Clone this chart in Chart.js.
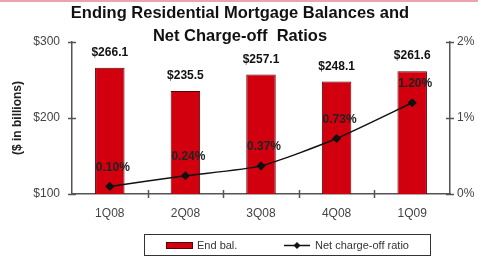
<!DOCTYPE html>
<html>
<head>
<meta charset="utf-8">
<script src="https://cdn.jsdelivr.net/npm/chart.js@4.4.1/dist/chart.umd.min.js"></script>
<style>
  html, body { margin: 0; padding: 0; background: #fff; }
  #wrap { position: relative; width: 478px; height: 258px; overflow: hidden; }
  #topline { position: absolute; left: 0; top: 0; width: 478px; height: 2px; background: #eba3ad; }
</style>
</head>
<body>
<div id="wrap">
  <canvas id="chart" width="478" height="258"></canvas>
  <div id="topline"></div>
</div>
<script>
// ---- data ----
const quarters = ["1Q08", "2Q08", "3Q08", "4Q08", "1Q09"];
const endBalances = [266.1, 235.5, 257.1, 248.1, 261.6];
const chargeOffRatios = [0.10, 0.24, 0.37, 0.73, 1.20];
const balanceTicks = [100, 200, 300];
const ratioTicks = [0, 1, 2];
const titleLines = ["Ending Residential Mortgage Balances and", "Net Charge-off  Ratios"];
const legendLabels = ["End bal.", "Net charge-off ratio"];

const BAR_RED = "#d2000f";
const BAR_EDGE = "#5a0005";
const LINE_COL = "#111";
const AXIS_COL = "#555";
const FONT = "Arial, 'Liberation Sans', sans-serif";

// draws titles, value labels, crossing ticks and the boxed legend
const extrasPlugin = {
  id: "extras",
  afterDraw(chart) {
    const ctx = chart.ctx;
    const ca = chart.chartArea;
    const xs = chart.scales.x, yl = chart.scales.y, yr = chart.scales.y1;
    ctx.save();

    // title
    ctx.fillStyle = "#111";
    ctx.font = "bold 16.5px " + FONT;
    ctx.textAlign = "center";
    ctx.textBaseline = "middle";
    ctx.fillText(titleLines[0], 240, 13);
    ctx.fillText(titleLines[1], 240, 36);

    // crossing tick marks on the axes
    ctx.strokeStyle = AXIS_COL;
    ctx.lineWidth = 1.5;
    ctx.beginPath();
    balanceTicks.forEach(v => {
      const y = Math.round(yl.getPixelForValue(v)) + 0.5;
      ctx.moveTo(ca.left - 4, y); ctx.lineTo(ca.left + 4, y);
    });
    ratioTicks.forEach(v => {
      const y = Math.round(yr.getPixelForValue(v)) + 0.5;
      ctx.moveTo(ca.right - 4, y); ctx.lineTo(ca.right + 4, y);
    });
    for (let i = 0; i < quarters.length - 1; i++) {
      const x = Math.round((xs.getPixelForValue(i) + xs.getPixelForValue(i + 1)) / 2) + 0.5;
      ctx.moveTo(x, ca.bottom - 4); ctx.lineTo(x, ca.bottom + 4);
    }
    ctx.stroke();

    // bar value labels
    const barMeta = chart.getDatasetMeta(0);
    ctx.fillStyle = "#111";
    ctx.font = "bold 12px " + FONT;
    barMeta.data.forEach((bar, i) => {
      ctx.fillText("$" + endBalances[i].toFixed(1), bar.x, bar.y - 15);
    });

    // ratio labels
    const lineMeta = chart.getDatasetMeta(1);
    ctx.fillStyle = "#222";
    lineMeta.data.forEach((pt, i) => {
      ctx.fillText(chargeOffRatios[i].toFixed(2) + "%", pt.x + 3, pt.y - 19);
    });

    // legend
    ctx.strokeStyle = "#333";
    ctx.lineWidth = 1;
    ctx.strokeRect(144.5, 234.5, 286, 21);
    ctx.fillStyle = BAR_RED;
    ctx.fillRect(166, 242, 27, 7);
    ctx.strokeStyle = BAR_EDGE;
    ctx.strokeRect(166.5, 242.5, 26, 6);
    ctx.fillStyle = "#333";
    ctx.font = "11px " + FONT;
    ctx.textAlign = "left";
    ctx.fillText(legendLabels[0], 197, 245.5);
    ctx.strokeStyle = LINE_COL;
    ctx.lineWidth = 1.5;
    ctx.beginPath();
    ctx.moveTo(284, 245.5); ctx.lineTo(310, 245.5);
    ctx.stroke();
    ctx.fillStyle = LINE_COL;
    ctx.beginPath();
    ctx.moveTo(297, 242); ctx.lineTo(300.5, 245.5); ctx.lineTo(297, 249); ctx.lineTo(293.5, 245.5);
    ctx.closePath();
    ctx.fill();
    ctx.fillStyle = "#333";
    ctx.fillText(legendLabels[1], 315, 245.5);

    ctx.restore();
  }
};

new Chart(document.getElementById("chart"), {
  data: {
    labels: quarters,
    datasets: [
      {
        type: "bar",
        label: legendLabels[0],
        data: endBalances,
        yAxisID: "y",
        base: balanceTicks[0],
        backgroundColor: BAR_RED,
        borderColor: BAR_EDGE,
        borderWidth: 1,
        categoryPercentage: 1,
        barPercentage: 0.39,
        order: 1
      },
      {
        type: "line",
        label: legendLabels[1],
        data: chargeOffRatios,
        yAxisID: "y1",
        borderColor: LINE_COL,
        backgroundColor: LINE_COL,
        borderWidth: 1.5,
        tension: 0.2,
        pointStyle: "rectRot",
        pointRadius: 3.5,
        order: 0
      }
    ]
  },
  options: {
    responsive: false,
    animation: false,
    devicePixelRatio: 1,
    layout: { padding: { top: 42, left: 0, right: 0, bottom: 0 } },
    plugins: {
      legend: { display: false },
      title: { display: false },
      tooltip: { enabled: false }
    },
    scales: {
      x: {
        offset: true,
        grid: { display: false, drawTicks: false },
        border: { color: AXIS_COL, width: 1.5 },
        ticks: { color: "#444", font: { family: FONT, size: 12 }, padding: 12, maxRotation: 0 },
        afterFit(s) { s.height = 64; }
      },
      y: {
        position: "left",
        min: balanceTicks[0],
        max: balanceTicks[balanceTicks.length - 1],
        afterBuildTicks(s) { s.ticks = balanceTicks.map(v => ({ value: v })); },
        grid: { display: false, drawTicks: false },
        border: { color: AXIS_COL, width: 1.5 },
        ticks: { color: "#444", font: { family: FONT, size: 12 }, padding: 12, callback: v => "$" + v },
        title: {
          display: true,
          text: "($ in billions)",
          color: "#222",
          font: { family: FONT, size: 12, weight: "bold" },
          padding: { top: 10, bottom: 0 }
        },
        afterFit(s) { s.width = 72; }
      },
      y1: {
        position: "right",
        min: ratioTicks[0],
        max: ratioTicks[ratioTicks.length - 1],
        afterBuildTicks(s) { s.ticks = ratioTicks.map(v => ({ value: v })); },
        grid: { display: false, drawTicks: false },
        border: { color: AXIS_COL, width: 1.5 },
        ticks: { color: "#444", font: { family: FONT, size: 12 }, padding: 7, callback: v => v + "%" },
        afterFit(s) { s.width = 28; }
      }
    }
  },
  plugins: [extrasPlugin]
});
</script>
</body>
</html>
